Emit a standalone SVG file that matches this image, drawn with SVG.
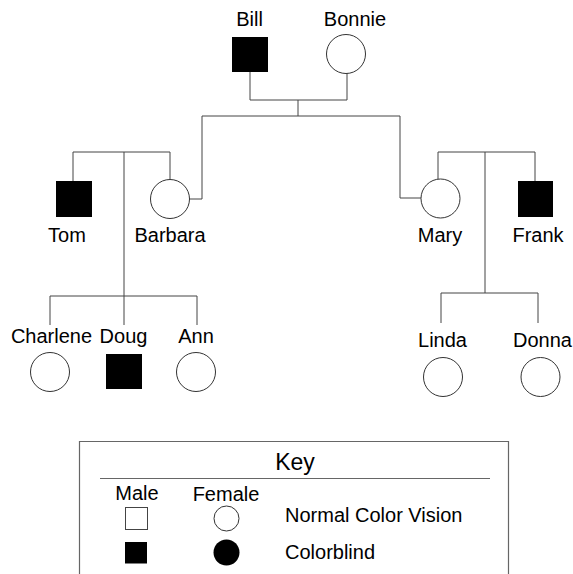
<svg xmlns="http://www.w3.org/2000/svg" width="573" height="574" viewBox="0 0 573 574">
<style>
.t{font-family:"Liberation Sans",Arial,sans-serif;font-size:20px;fill:#000;text-anchor:middle}
.l{text-anchor:start}
.ln{fill:none;stroke:#444;stroke-width:1}
.f{fill:#fff;stroke:#333;stroke-width:1}
.m{fill:#000;stroke:none}
.k{fill:none;stroke:#666;stroke-width:1.2}
</style>
<rect width="573" height="574" fill="#fff"/>
<g id="connectors" class="ln">
<path d="M250,72V100H347V73M298,100V116M202,116H400M202,116V199H189M400,116V198H421"/>
<path d="M73,181V152H170V179M124,152V325M50,325V296H197V325"/>
<path d="M438,179V152H535V181M485,152V293M441,323V293H538V323"/>
</g>
<g id="bill"><rect class="m" x="232" y="37" width="36" height="35"/><text class="t" x="249.5" y="26">Bill</text></g>
<g id="bonnie"><circle class="f" cx="346" cy="54" r="19.5"/><text class="t" x="355" y="26">Bonnie</text></g>
<g id="tom"><rect class="m" x="56" y="181" width="36" height="36"/><text class="t" x="67" y="242">Tom</text></g>
<g id="barbara"><circle class="f" cx="170" cy="199" r="19.5"/><text class="t" x="170" y="242">Barbara</text></g>
<g id="mary"><circle class="f" cx="440.5" cy="198.5" r="19.5"/><text class="t" x="440" y="242">Mary</text></g>
<g id="frank"><rect class="m" x="518" y="181" width="35" height="36"/><text class="t" x="538" y="242">Frank</text></g>
<g id="charlene"><circle class="f" cx="50" cy="372" r="19.5"/><text class="t" x="51.5" y="343">Charlene</text></g>
<g id="doug"><rect class="m" x="106" y="354" width="36" height="35"/><text class="t" x="123.5" y="343">Doug</text></g>
<g id="ann"><circle class="f" cx="196" cy="372" r="19.5"/><text class="t" x="196" y="343">Ann</text></g>
<g id="linda"><circle class="f" cx="443" cy="377" r="19.5"/><text class="t" x="442.5" y="346.5">Linda</text></g>
<g id="donna"><circle class="f" cx="540.5" cy="377" r="19.5"/><text class="t" x="542.5" y="346.5">Donna</text></g>
<g id="key">
<path class="k" d="M79.5,574V441.5H508.5V574"/>
<path class="k" d="M100,478.5H490"/>
<text class="t" x="295" y="470" style="font-size:23px">Key</text>
<text class="t" x="137" y="500">Male</text>
<text class="t" x="226" y="501">Female</text>
<rect x="125.5" y="507.5" width="22" height="22" fill="#fff" stroke="#444"/>
<rect class="m" x="125" y="542" width="22" height="21.5"/>
<circle class="f" cx="226.5" cy="518.5" r="12.5"/>
<circle class="m" cx="226.5" cy="552.5" r="13"/>
<text class="t l" x="285" y="522">Normal Color Vision</text>
<text class="t l" x="285" y="559">Colorblind</text>
</g>
</svg>
